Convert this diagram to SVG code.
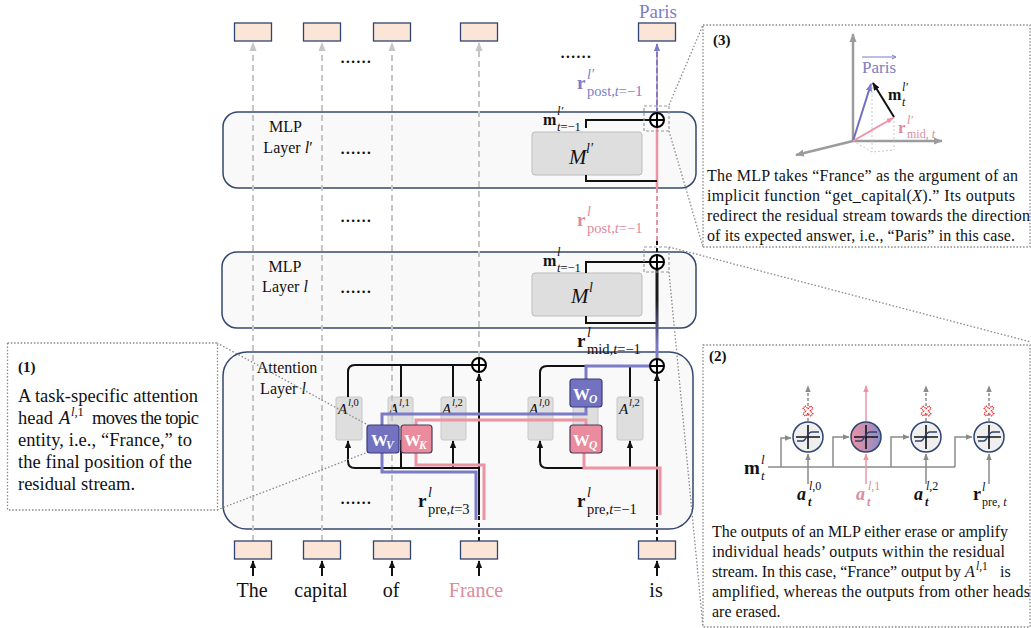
<svg xmlns="http://www.w3.org/2000/svg" width="1031" height="628" viewBox="0 0 1031 628">
<defs>
<style>
text{font-family:"Liberation Serif","Times New Roman",serif;fill:#111}
.b{font-weight:bold}
.i{font-style:italic}
.tok{fill:#fbe5d6;stroke:#2f4470;stroke-width:1.3}
.layer{fill:#f9f9f9;stroke:#34486f;stroke-width:1.5}
.mbox{fill:#dedede;stroke:#bdbdbd;stroke-width:1}
.abox{fill:#dedede;stroke:#c8c8c8;stroke-width:1}
.gcol{stroke:#c6c6c6;stroke-width:2;stroke-dasharray:6 4;fill:none}
.blk{stroke:#111;stroke-width:2;fill:none}
.bdash{stroke:#111;stroke-width:2;stroke-dasharray:4 3;fill:none}
.pur{stroke:#7b7bc6;stroke-width:3;fill:none}
.pnk{stroke:#ec93a4;stroke-width:3;fill:none}
.dot{stroke:#888;stroke-width:1.3;stroke-dasharray:1.5 2;fill:none}
.sq{stroke:#9a9a9a;stroke-width:1.2;stroke-dasharray:3 2;fill:none}
.panel{fill:#fff;stroke:#888;stroke-width:1.3;stroke-dasharray:1.5 1.8}
.wv{fill:#7272c0;stroke:#3b3b7c;stroke-width:1.2}
.wk{fill:#ea8c9d;stroke:#4a3b5c;stroke-width:1.2}
.wt{font-weight:bold}
.ax{stroke:#9c9c9c;stroke-width:2.5;fill:none}
.gl{stroke:#8a8a8a;stroke-width:1.5;fill:none}
.para{font-size:16px}
.p1{font-size:18.5px}
.pur-t{fill:#7d7dc4}
.pnk-t{fill:#dc8c9c}
.wh{fill:#fff}
.rl{font-size:19px;font-weight:bold}
.sup{font-size:14px;font-style:italic}
.sub{font-size:14.5px}
</style>
<marker id="ab" viewBox="0 0 10 10" refX="9" refY="5" markerUnits="userSpaceOnUse" markerWidth="8" markerHeight="8" orient="auto"><path d="M0,1 L10,5 L0,9 z" fill="#111"/></marker>
<marker id="ag" viewBox="0 0 10 10" refX="9" refY="5" markerUnits="userSpaceOnUse" markerWidth="9" markerHeight="9" orient="auto"><path d="M0,1 L10,5 L0,9 z" fill="#c6c6c6"/></marker>
<marker id="ag2" viewBox="0 0 10 10" refX="9" refY="5" markerUnits="userSpaceOnUse" markerWidth="7" markerHeight="7" orient="auto"><path d="M0,1 L10,5 L0,9 z" fill="#8a8a8a"/></marker>
<marker id="ap" viewBox="0 0 10 10" refX="9" refY="5" markerUnits="userSpaceOnUse" markerWidth="8" markerHeight="8" orient="auto"><path d="M0,1 L10,5 L0,9 z" fill="#7b7bc6"/></marker>
<marker id="apk" viewBox="0 0 10 10" refX="9" refY="5" markerUnits="userSpaceOnUse" markerWidth="7" markerHeight="7" orient="auto"><path d="M0,1 L10,5 L0,9 z" fill="#ec93a4"/></marker>
<marker id="aax" viewBox="0 0 10 10" refX="9" refY="5" markerUnits="userSpaceOnUse" markerWidth="9" markerHeight="9" orient="auto"><path d="M0,1 L10,5 L0,9 z" fill="#9c9c9c"/></marker>
<linearGradient id="midg" gradientUnits="userSpaceOnUse" x1="0" y1="300" x2="0" y2="345"><stop offset="0" stop-color="#1a1a1a"/><stop offset="1" stop-color="#7b7bc6"/></linearGradient>
<linearGradient id="ng" x1="0" y1="0" x2="1" y2="0"><stop offset="0" stop-color="#ee92a2"/><stop offset="1" stop-color="#8c8cc8"/></linearGradient>
<g id="oplus"><circle cx="0" cy="0" r="7" fill="#fff" stroke="#000" stroke-width="2"/><path d="M-7 0H7M0 -7V7" stroke="#000" stroke-width="2"/></g>
<g id="neu"><path d="M-12 0H12M0 -12V12" stroke="#111" stroke-width="1.6"/><path d="M-11 4H-5C-2 4 -1 -5 4 -5H11" stroke="#2e4370" stroke-width="1.3" fill="none"/></g>
<path id="rx" d="M-1.6 -5.5H1.6V-1.6H5.5V1.6H1.6V5.5H-1.6V1.6H-5.5V-1.6H-1.6Z" transform="rotate(45)" fill="#fff" stroke="#e22" stroke-width="1.2" stroke-dasharray="1.2 0.8"/>
</defs>

<!-- layers -->
<g id="mlp-layer-lp"><rect class="layer" x="223" y="112" width="473" height="76" rx="15"/>
<text x="285.5" y="132" font-size="16" text-anchor="middle">MLP</text>
<text x="288" y="153" font-size="16" text-anchor="middle">Layer <tspan class="i">l</tspan>′</text></g>
<g id="mlp-layer-l"><rect class="layer" x="222" y="252" width="474" height="76" rx="15"/>
<text x="285" y="272" font-size="16" text-anchor="middle">MLP</text>
<text x="285" y="292" font-size="16" text-anchor="middle">Layer <tspan class="i">l</tspan></text></g>
<g id="attn-layer-l"><rect class="layer" x="223" y="352" width="470" height="177" rx="24"/>
<text x="287" y="373" font-size="16" text-anchor="middle">Attention</text>
<text x="283" y="394" font-size="16" text-anchor="middle">Layer <tspan class="i">l</tspan></text></g>

<!-- MLP boxes -->
<g id="M-lp"><rect class="mbox" x="532" y="132" width="110" height="43" rx="3"/>
<text x="569" y="164" font-size="21" class="i">M</text><text x="586" y="153" font-size="14" class="i">l′</text></g>
<g id="M-l"><rect class="mbox" x="532" y="273" width="110" height="43" rx="3"/>
<text x="571" y="303" font-size="21" class="i">M</text><text x="589" y="292" font-size="14" class="i">l</text></g>

<!-- attention heads boxes -->
<g id="A0-left"><rect class="abox" x="336" y="397" width="26" height="43" rx="2"/><text x="338" y="414" font-size="15" class="i">A</text><text x="348" y="406" font-size="10.5" class="i">l<tspan font-style="normal">,0</tspan></text></g>
<g id="A1-left"><rect class="abox" x="388" y="397" width="25" height="43" rx="2"/><text x="389" y="414" font-size="15" class="i">A</text><text x="399" y="406" font-size="10.5" class="i">l<tspan font-style="normal">,1</tspan></text></g>
<g id="A2-left"><rect class="abox" x="441" y="397" width="25" height="43" rx="2"/><text x="442" y="414" font-size="15" class="i">A</text><text x="452" y="406" font-size="10.5" class="i">l<tspan font-style="normal">,2</tspan></text></g>
<g id="A0-right"><rect class="abox" x="528" y="397" width="25" height="43" rx="2"/><text x="529" y="414" font-size="15" class="i">A</text><text x="539" y="406" font-size="10.5" class="i">l<tspan font-style="normal">,0</tspan></text></g>
<g id="A1-right"><rect class="abox" x="573" y="397" width="25" height="43" rx="2"/></g>
<g id="A2-right"><rect class="abox" x="617" y="397" width="26" height="43" rx="2"/><text x="619" y="414" font-size="15" class="i">A</text><text x="629" y="406" font-size="10.5" class="i">l<tspan font-style="normal">,2</tspan></text></g>

<!-- connectors -->
<g id="connectors">
<path class="gcol" d="M253 541V43" marker-end="url(#ag)"/>
<path class="gcol" d="M322 541V43" marker-end="url(#ag)"/>
<path class="gcol" d="M392 541V43" marker-end="url(#ag)"/>
<path class="gcol" d="M479 357V43" marker-end="url(#ag)"/>
<path d="M657 113V44" stroke="#ec93a4" stroke-width="2" fill="none"/>
<path d="M657 113V44" stroke="#7b7bc6" stroke-width="2" stroke-dasharray="5 3" fill="none" marker-end="url(#ap)"/>
<path d="M657 127V188" stroke="#ec93a4" stroke-width="2.5" fill="none"/>
<path d="M657 188V241" stroke="#ec93a4" stroke-width="2" stroke-dasharray="5 3" fill="none"/>
<path class="bdash" d="M657 241V255"/>
<path class="blk" d="M586 128V120H650M586 175V181H657"/>
<path class="blk" d="M586 273V262H650M586 316V323H657"/>
<path d="M657 269V358" stroke="url(#midg)" stroke-width="3" fill="none"/>
<path class="blk" d="M348 397V372Q348 365 355 365H472M401 365V397M453 365V397"/>
<path class="blk" d="M479 468H355Q348 468 348 461V441" marker-end="url(#ab)"/>
<path class="blk" d="M453 468V441" marker-end="url(#ab)"/>
<path class="blk" d="M401 468V440"/>
<path class="bdash" d="M479 541V515"/>
<path class="blk" d="M479 515V374" marker-end="url(#ab)"/>
<path class="blk" d="M540 397V373Q540 366 547 366H650M630 366V397"/>
<path class="blk" d="M657 468H547Q540 468 540 461V441" marker-end="url(#ab)"/>
<path class="blk" d="M630 468V441" marker-end="url(#ab)"/>
<path class="bdash" d="M657 541V515"/>
<path class="blk" d="M657 515V374" marker-end="url(#ab)"/>
<path class="pur" d="M476 520V472H382V453"/>
<path class="pnk" d="M484 520V465H416V453"/>
<path class="pur" d="M382 425V414H586V407"/>
<path class="pnk" d="M416 425V420H586V425"/>
<path class="pur" d="M586 379V366H650"/>
<path class="pnk" d="M584 453V468H660V515"/>
<path class="blk" d="M253 576V561" stroke-width="2.5" marker-end="url(#ab)"/>
<path class="blk" d="M322 576V561" stroke-width="2.5" marker-end="url(#ab)"/>
<path class="blk" d="M392 576V561" stroke-width="2.5" marker-end="url(#ab)"/>
<path class="blk" d="M479 576V561" stroke-width="2.5" marker-end="url(#ab)"/>
<path class="blk" d="M657 576V561" stroke-width="2.5" marker-end="url(#ab)"/>
<path class="dot" d="M669 105L703 25M669 131L703 247"/>
<path class="dot" d="M669 247L1031 342M669 272L703 627"/>
<path class="dot" d="M217 343L368 425M217 510L368 452"/>
</g>

<!-- W boxes -->
<g id="W_V"><rect class="wv" x="367" y="425" width="32" height="28" rx="3"/><text class="wt wh" x="371" y="446" font-size="17">W</text><text class="wt i wh" x="386" y="449" font-size="11.5">V</text></g>
<g id="W_K"><rect class="wk" x="401" y="425" width="31" height="28" rx="3"/><text class="wt wh" x="404" y="446" font-size="17">W</text><text class="wt i wh" x="419" y="449" font-size="11.5">K</text></g>
<g id="W_O"><rect class="wv" x="570" y="379" width="32" height="28" rx="3"/><text class="wt wh" x="573" y="400" font-size="17">W</text><text class="wt i wh" x="589" y="403" font-size="11.5">O</text></g>
<g id="W_Q"><rect class="wk" x="570" y="425" width="32" height="28" rx="3"/><text class="wt wh" x="573" y="446" font-size="17">W</text><text class="wt i wh" x="589" y="449" font-size="11.5">Q</text></g>

<!-- adders -->
<g id="add-mlp-lp"><use href="#oplus" x="657" y="120"/><rect class="sq" x="644" y="106" width="25" height="25"/></g>
<g id="add-mlp-l"><use href="#oplus" x="657" y="262"/><rect class="sq" x="644" y="247" width="25" height="25"/></g>
<g id="add-attn-t3"><use href="#oplus" x="479" y="365"/></g>
<g id="add-attn-t-1"><use href="#oplus" x="657" y="366"/></g>

<!-- tokens -->
<g id="out-tokens">
<rect class="tok" x="234.5" y="23" width="37" height="18"/><rect class="tok" x="303.5" y="23" width="37" height="18"/><rect class="tok" x="373.5" y="23" width="37" height="18"/><rect class="tok" x="460.5" y="23" width="37" height="18"/><rect class="tok" x="638.5" y="23" width="37" height="18"/>
<text x="658" y="18" font-size="19" text-anchor="middle" class="pur-t">Paris</text>
</g>
<g id="in-tokens">
<rect class="tok" x="234.5" y="541" width="37" height="18"/><rect class="tok" x="303.5" y="541" width="37" height="18"/><rect class="tok" x="373.5" y="541" width="37" height="18"/><rect class="tok" x="460.5" y="541" width="37" height="18"/><rect class="tok" x="638.5" y="541" width="37" height="18"/>
<text x="252" y="597" font-size="20" text-anchor="middle">The</text>
<text x="321" y="597" font-size="20" text-anchor="middle">capital</text>
<text x="391" y="597" font-size="20" text-anchor="middle">of</text>
<text x="476" y="597" font-size="20" text-anchor="middle" class="pnk-t">France</text>
<text x="656" y="597" font-size="20" text-anchor="middle">is</text>
</g>

<!-- dots -->
<g id="ellipses" font-size="21">
<text x="340" y="63">......</text><text x="560" y="58">......</text>
<text x="340" y="154">......</text><text x="340" y="222">......</text>
<text x="340" y="293">......</text><text x="340" y="504">......</text>
</g>

<!-- math labels -->
<g id="labels">
<text x="577" y="89" class="rl pur-t">r</text><text x="587" y="79" class="sup pur-t">l′</text><text x="587" y="96" class="sub pur-t">post,<tspan class="i">t</tspan>=−1</text>
<text x="577" y="226" class="rl pnk-t">r</text><text x="587" y="216" class="sup pnk-t">l</text><text x="587" y="233" class="sub pnk-t">post,<tspan class="i">t</tspan>=−1</text>
<text x="577" y="347" class="rl">r</text><text x="587" y="337" class="sup">l</text><text x="587" y="354" class="sub">mid,<tspan class="i">t</tspan>=−1</text>
<text x="418" y="507" class="rl">r</text><text x="428" y="497" class="sup">l</text><text x="428" y="514" class="sub">pre,<tspan class="i">t</tspan>=3</text>
<text x="577" y="507" class="rl">r</text><text x="587" y="497" class="sup">l</text><text x="587" y="514" class="sub">pre,<tspan class="i">t</tspan>=−1</text>
<text x="543" y="125" font-size="16" class="b">m</text><text x="557" y="115" font-size="12.5" class="i">l′</text><text x="557" y="131" font-size="12.5"><tspan class="i">t</tspan>=−1</text>
<text x="543" y="266" font-size="16" class="b">m</text><text x="557" y="256" font-size="12.5" class="i">l</text><text x="557" y="272" font-size="12.5"><tspan class="i">t</tspan>=−1</text>
</g>

<!-- panel 1 -->
<g id="panel-1">
<rect class="panel" x="7.5" y="343" width="210" height="167"/>
<text x="18" y="372" font-size="15" class="b">(1)</text>
<text class="p1" x="18" y="402" textLength="180" lengthAdjust="spacing">A task-specific attention</text>
<text class="p1" x="18" y="424">head</text><text class="p1 i" x="59" y="424">A</text><text x="71" y="416" font-size="12.5"><tspan class="i">l</tspan>,1</text><text class="p1" x="92" y="424" textLength="107" lengthAdjust="spacing">moves the topic</text>
<text class="p1" x="18" y="446" textLength="174" lengthAdjust="spacing">entity, i.e., “France,” to</text>
<text class="p1" x="18" y="468" textLength="174" lengthAdjust="spacing">the final position of the</text>
<text class="p1" x="18" y="490" textLength="117" lengthAdjust="spacing">residual stream.</text>
</g>

<!-- panel 3 -->
<g id="panel-3">
<rect class="panel" x="703" y="25" width="327" height="222"/>
<text x="713" y="45" font-size="15" class="b">(3)</text>
<path class="ax" d="M853 141V34" marker-end="url(#aax)"/>
<path class="ax" d="M853 141H942" marker-end="url(#aax)"/>
<path class="ax" d="M853 141L796 155" marker-end="url(#aax)"/>
<path d="M872 83V152M894 117V150M853 141L872 152L894 150" stroke="#c8c8c8" stroke-width="1" stroke-dasharray="2 2" fill="none"/>
<path d="M853 141L871 84" stroke="#6f6fc0" stroke-width="2" fill="none" marker-end="url(#ap)"/>
<path d="M853 141L893 118" stroke="#ec93a4" stroke-width="2" fill="none" marker-end="url(#apk)"/>
<path d="M894 117L873 83" stroke="#111" stroke-width="2" fill="none" marker-end="url(#ab)"/>
<text x="862" y="73" font-size="17" class="pur-t">Paris</text>
<path d="M862 57H895" stroke="#7d7dc4" stroke-width="1" fill="none"/><path d="M892 55L896 57L892 59" stroke="#7d7dc4" stroke-width="1" fill="none"/>
<text x="888" y="100" font-size="16" class="b">m</text><text x="902" y="91" font-size="12" class="i">l′</text><text x="902" y="106" font-size="12" class="i">t</text>
<text x="898" y="133" font-size="17" class="b pnk-t">r</text><text x="907" y="124" font-size="12" class="i pnk-t">l′</text><text x="907" y="138" font-size="12" class="pnk-t">mid, <tspan class="i">t</tspan></text>
<text class="para" x="707" y="181" textLength="311" lengthAdjust="spacing">The MLP takes “France” as the argument of an</text>
<text class="para" x="707" y="201" textLength="308" lengthAdjust="spacing">implicit function “get_capital(<tspan class="i">X</tspan>).” Its outputs</text>
<text class="para" x="707" y="221" textLength="323" lengthAdjust="spacing">redirect the residual stream towards the direction</text>
<text class="para" x="707" y="241" textLength="308" lengthAdjust="spacing">of its expected answer, i.e., “Paris” in this case.</text>
</g>

<!-- panel 2 -->
<g id="panel-2">
<rect class="panel" x="703" y="345" width="327" height="282"/>
<text x="709" y="361" font-size="15" class="b">(2)</text>
<path class="gl" d="M768 467H955"/>
<path class="gl" d="M781 467V438H791" marker-end="url(#ag2)"/>
<path class="gl" d="M833 467V437H849" marker-end="url(#ag2)"/>
<path class="gl" d="M891 467V437H909" marker-end="url(#ag2)"/>
<path class="gl" d="M955 467V437H972" marker-end="url(#ag2)"/>
<path class="gl" d="M808 484V454" marker-end="url(#ag2)"/>
<path class="gl" d="M926 484V454" marker-end="url(#ag2)"/>
<path class="gl" d="M989 484V454" marker-end="url(#ag2)"/>
<path d="M866 484V454" stroke="#ec93a4" stroke-width="1.5" fill="none" marker-end="url(#apk)"/>
<path class="gl" d="M808 421V386" stroke-dasharray="3 2" marker-end="url(#ag2)"/>
<path class="gl" d="M926 421V386" stroke-dasharray="3 2" marker-end="url(#ag2)"/>
<path class="gl" d="M989 421V386" stroke-dasharray="3 2" marker-end="url(#ag2)"/>
<path d="M866 421V386" stroke="#ec93a4" stroke-width="1.5" fill="none" marker-end="url(#apk)"/>
<g id="neuron-0"><circle cx="808" cy="437" r="15" fill="#efefef" stroke="#2e4370" stroke-width="1.5"/><use href="#neu" x="808" y="437"/><use href="#rx" transform="translate(808 411)"/></g>
<g id="neuron-1"><circle cx="866" cy="437" r="15" fill="url(#ng)" stroke="#2e4370" stroke-width="1.5"/><use href="#neu" x="866" y="437"/></g>
<g id="neuron-2"><circle cx="926" cy="437" r="15" fill="#efefef" stroke="#2e4370" stroke-width="1.5"/><use href="#neu" x="926" y="437"/><use href="#rx" transform="translate(926 411)"/></g>
<g id="neuron-3"><circle cx="989" cy="437" r="15" fill="#efefef" stroke="#2e4370" stroke-width="1.5"/><use href="#neu" x="989" y="437"/><use href="#rx" transform="translate(989 411)"/></g>
<text x="744" y="474" font-size="19" class="b">m</text><text x="761" y="464" font-size="13" class="i">l</text><text x="761" y="480" font-size="13" class="i">t</text>
<text x="797" y="500" font-size="18" class="b i">a</text><text x="809" y="490" font-size="12" class="i">l<tspan font-style="normal">,0</tspan></text><text x="808" y="506" font-size="12" class="b i">t</text>
<text x="856" y="500" font-size="18" class="b i pnk-t">a</text><text x="868" y="490" font-size="12" class="i pnk-t">l<tspan font-style="normal">,1</tspan></text><text x="867" y="506" font-size="12" class="b i pnk-t">t</text>
<text x="914" y="500" font-size="18" class="b i">a</text><text x="926" y="490" font-size="12" class="i">l<tspan font-style="normal">,2</tspan></text><text x="925" y="506" font-size="12" class="b i">t</text>
<text x="973" y="500" font-size="18" class="b">r</text><text x="982" y="491" font-size="12" class="i">l</text><text x="982" y="506" font-size="12">pre, <tspan class="i">t</tspan></text>
<text class="para" x="712" y="537" textLength="296" lengthAdjust="spacing">The outputs of an MLP either erase or amplify</text>
<text class="para" x="712" y="557" textLength="293" lengthAdjust="spacing">individual heads’ outputs within the residual</text>
<text class="para" x="712" y="577" textLength="249" lengthAdjust="spacing">stream. In this case, “France” output by</text><text class="para i" x="965" y="577">A</text><text x="976" y="570" font-size="11.5"><tspan class="i">l</tspan>,1</text><text class="para" x="1000" y="577">is</text>
<text class="para" x="712" y="597" textLength="318" lengthAdjust="spacing">amplified, whereas the outputs from other heads</text>
<text class="para" x="712" y="617">are erased.</text>
</g>
</svg>
